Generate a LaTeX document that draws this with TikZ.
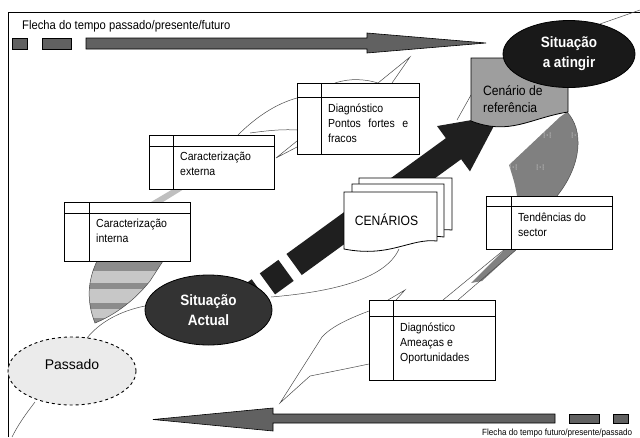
\documentclass[tikz,border=0pt]{standalone}
\usepackage{fontspec}
\setmainfont{Liberation Sans}
\newfontfamily\nf[FakeStretch=0.9]{Liberation Sans}
\usetikzlibrary{shapes.geometric,fit}
\newcommand{\tablebox}[7]{%
  \draw[boxline] (#2,#3) rectangle (#4,#5);
  \draw[boxline, fill=none] (#2,#6) -- (#4,#6);
  \draw[boxline, fill=none] (#7,#3) -- (#7,#5);
  \node[inner sep=0, fit={(#2,#3) (#4,#5)}] (#1) {};
}
\newcommand{\dotmark}[2]{%
  \foreach \dx in {-3,3}{\foreach \dy in {-2,0,2}{\fill[white] (#1+\dx,#2+\dy) circle (0.5pt);}}
  \fill[white] (#1,#2) circle (0.5pt);
}
\begin{document}
\begin{tikzpicture}[x=1pt,y=-1pt,
  thinline/.style={draw=black!70, line width=0.5pt},
  boxline/.style={draw=black, line width=0.9pt, fill=white},
  btext/.style={inner sep=0, anchor=north west, align=left, font=\nf\fontsize{11.7}{14.8}\selectfont},
  arrowfill/.style={fill=black!88},
  timearrow/.style={draw=black, line width=0.6pt, fill=black!62},
  docshape/.style={draw=black, line width=0.8pt, fill=white},
]
\useasboundingbox (0,0) rectangle (640,437);
\clip (0,0) rectangle (640,437);
\fill[white] (0,0) rectangle (640,437);

% frame
\draw[line width=0.8pt] (8,437) -- (8,12) -- (640,12);

% titles
\node[inner sep=0, anchor=base west, font=\nf\fontsize{12.5}{14}\selectfont] (ttop) at (22,29.3) {Flecha do tempo passado/presente/futuro};
\node[inner sep=0, anchor=base west, font=\nf\fontsize{9}{11}\selectfont] (tbot) at (482,435.5) {Flecha do tempo futuro/presente/passado};

% time arrows
\draw[timearrow] (12,38) rectangle (27,49);
\draw[timearrow] (42,38) rectangle (71,49);
\draw[timearrow] (86,38) -- (367,38) -- (367,33) -- (486,43) -- (367,53) -- (367,49) -- (86,49) -- cycle;
\draw[timearrow] (555,414) -- (273,414) -- (273,408) -- (153,419.5) -- (273,431) -- (273,423) -- (555,423) -- cycle;
\draw[timearrow] (569,414) rectangle (599,423);
\draw[timearrow] (613,414) rectangle (628,423);

% thin freehand lines
\draw[thinline] (35,402) .. controls (25,415) and (18,425) .. (12,437);
\draw[thinline] (87,338) .. controls (100,322) and (120,311) .. (145,306);
\draw[thinline] (271,297) .. controls (330,292) and (385,280) .. (399,249);
\draw[thinline] (238,135) .. controls (255,118) and (275,104) .. (297,98);
\draw[thinline] (250,133) .. controls (265,131) and (280,129) .. (297,130);
\draw[thinline] (297,141) -- (276,158) -- (297,147);
\draw[thinline] (335,83) .. controls (350,78) and (365,79) .. (378,83) -- (410,57) -- (392,83);
\draw[thinline] (471,95) -- (457,120);
\draw[thinline] (600,24) -- (640,10);
\draw[thinline] (369,311) .. controls (345,320) and (330,328) .. (322,337) -- (280,403) -- (310,376) .. controls (330,372) and (350,368) .. (369,364);
\draw[thinline] (388,300) -- (405,290) -- (396,300);

% gray band between boxes
\fill[black!25] (173,189) -- (184,189) -- (163,202) -- (151,202) -- cycle;

% striped wedge under internal box
\begin{scope}
\clip (97,261) -- (163,261) -- (150,281) .. controls (135,300) and (115,315) .. (95,323) .. controls (86,300) and (88,280) .. (97,261) -- cycle;
\fill[black!22] (80,255) rectangle (170,330);
\fill[black!45] (80,261) rectangle (170,271);
\fill[black!45] (80,283) rectangle (170,289);
\fill[black!45] (80,303) rectangle (170,309);
\fill[black!45] (80,318) rectangle (170,325);
\end{scope}
\draw[thinline] (163,261) -- (150,281) .. controls (135,300) and (115,315) .. (95,323) .. controls (86,300) and (88,280) .. (97,261);

% right gray shape (reference -> trends)
\fill[black!50] (567,112) .. controls (584,130) and (582,165) .. (557,196) -- (517,196) .. controls (515,182) and (511,172) .. (509,165) -- (560,117) -- cycle;
\draw[thinline] (567,112) .. controls (584,130) and (582,165) .. (557,196);
\dotmark{547}{135}
\dotmark{575}{135}
\dotmark{513}{167}
\dotmark{540}{167}

% gray wedge under trends
\fill[black!50] (505,249) -- (517,249) -- (482,281) -- (471,283) -- cycle;
\draw[thinline] (505,249) -- (443,300);
\draw[thinline] (517,249) -- (458,300);

% big dashed arrow
\begin{scope}[shift={(248,298)}, rotate=36]
\fill[arrowfill] (0,-13) rectangle (14,13);
\fill[arrowfill] (24,-13) rectangle (47,13);
\fill[arrowfill] (57,-13) -- (254,-13) -- (254,-28) -- (311,0) -- (254,28) -- (254,13) -- (57,13) -- cycle;
\end{scope}

% CENARIOS stack
\draw[docshape] (359,178) -- (452,178) -- (452,230) .. controls (425,227) and (410,246) .. (359,238) -- cycle;
\draw[docshape] (352,184) -- (444,184) -- (444,237) .. controls (418,233) and (402,253) .. (352,244) -- cycle;
\draw[docshape] (344,192) -- (437,192) -- (437,241) .. controls (410,238) and (390,258) .. (344,249) -- cycle;
\node[inner sep=0, font=\nf\fontsize{13.5}{16}\selectfont] (cenarios) at (386.5,220) {CENÁRIOS};

% Cenario de referencia
\draw[draw=black, line width=0.8pt, fill=black!38] (471,58) -- (568,58) -- (568,112) .. controls (530,118) and (510,136) .. (471,121) -- cycle;
\node[inner sep=0, anchor=north west, align=left, font=\nf\fontsize{13.5}{17}\selectfont] (ref) at (483,85) {Cenário de\\referência};

% table boxes
\tablebox{int}{64}{202}{190}{261}{213}{89}
\node[btext] (intT) at (96,219) {Caracterização\\interna};
\tablebox{ext}{149}{135}{274}{189}{146}{173}
\node[btext] (extT) at (180,152) {Caracterização\\externa};
\tablebox{diag}{297}{83}{419}{154}{97}{321}
\node[btext] (diagT) at (328,104) {Diagnóstico\\\makebox[80pt][s]{Pontos fortes e}\\fracos};
\tablebox{tend}{486}{196}{612}{249}{206}{511}
\node[btext] (tendT) at (518,213) {Tendências do\\sector};
\tablebox{amea}{369}{300}{495}{380}{316}{393}
\node[btext] (ameaT) at (400,323) {Diagnóstico\\Ameaças e\\Oportunidades};

% ellipses
\node[ellipse, draw=black, line width=0.8pt, fill=black!90, minimum width=132, minimum height=67, inner sep=0,
  text=white, align=center, font=\nf\bfseries\fontsize{15}{20}\selectfont] (atingir) at (569,54) {Situação\\a atingir};
\node[ellipse, draw=black, line width=0.8pt, fill=black!80, minimum width=127, minimum height=70, inner sep=0,
  text=white, align=center, font=\nf\bfseries\fontsize{15}{20}\selectfont] (actual) at (208.5,310) {Situação\\Actual};
\node[ellipse, draw=black, dashed, line width=0.9pt, fill=black!8, minimum width=128, minimum height=68, inner sep=0,
  font=\fontsize{14}{16}\selectfont] (passado) at (72,371) {};
\node[inner sep=0, font=\fontsize{14}{16}\selectfont] (passadoT) at (72,364) {Passado};
\end{tikzpicture}
\end{document}
